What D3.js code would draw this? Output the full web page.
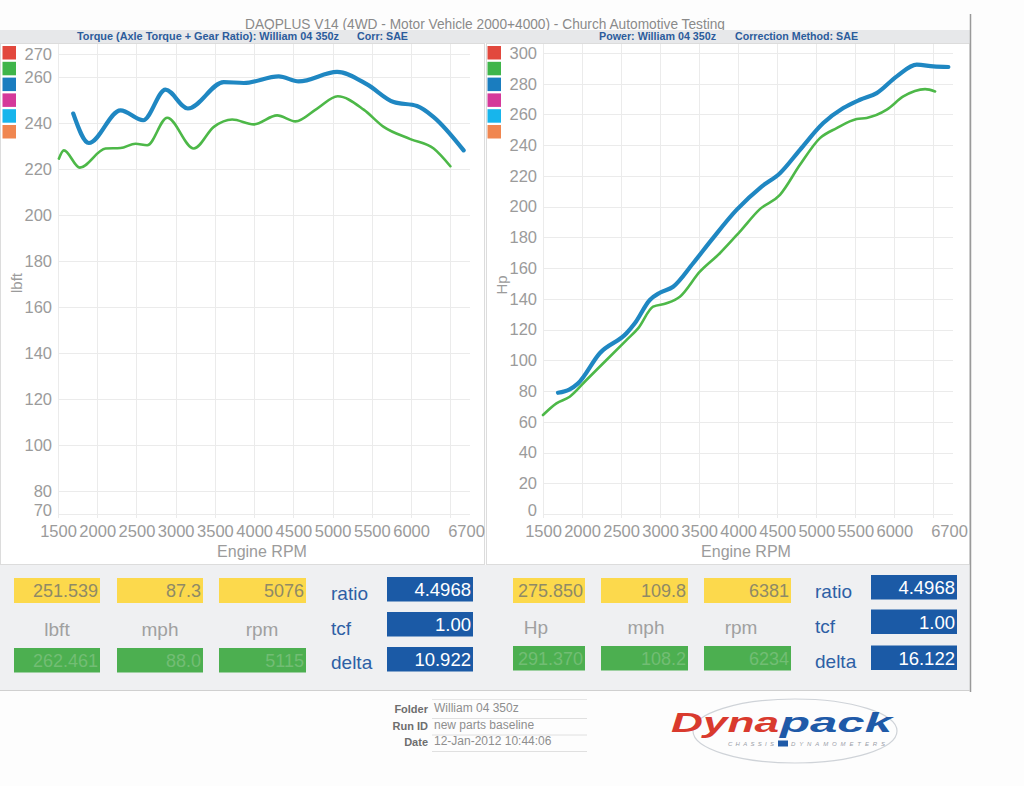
<!DOCTYPE html>
<html><head><meta charset="utf-8">
<script src="https://cdn.jsdelivr.net/npm/d3@7"></script>
<style>
body{margin:0;background:#fff;}
text{font-family:"Liberation Sans",Arial,sans-serif;}
</style>
</head><body>
<svg id="c" width="1024" height="786"></svg>
<script>
// ---------- DATA ----------
const chartTitle = "DAQPLUS V14 (4WD - Motor Vehicle 2000+4000) - Church Automotive Testing";
const rpmTicks = [1500,2000,2500,3000,3500,4000,4500,5000,5500,6000,6700];
const rpmGrid = [1500,2000,2500,3000,3500,4000,4500,5000,5500,6000,6500];
const torqueTicks = [70,80,100,120,140,160,180,200,220,240,260,270];
const powerTicks = [0,20,40,60,80,100,120,140,160,180,200,220,240,260,280,300];
const legendColors = ["#e2483d","#3fb54a","#1a7dbf","#d5399a","#17b5ec","#f08650"];

const torqueBlueRpm = [1694,1893,2297,2586,2870,3155,3613,3868,4313,4568,5057,5439,5778,6076,6288,6670];
const torqueBlue    = [244.1,231.3,245.5,241.2,254.5,246.3,257.8,257.4,260.3,258.1,262.2,256.8,249.1,247.4,242.6,228.1];
const torqueGreenRpm = [1511,1575,1778,2106,2297,2488,2637,2892,3231,3486,3720,3995,4293,4526,4803,5065,5396,5651,5991,6288,6501];
const torqueGreen    = [224.5,228.1,220.6,228.9,229.1,231.0,230.3,242.3,228.9,238.3,241.5,239.4,243.3,240.7,246.3,251.6,245.8,238.3,233.0,228.9,221.2];

const powerBlueRpm = [1692,1842,1949,2227,2569,2676,2868,2996,3167,3423,3659,3979,4300,4535,4791,5090,5346,5560,5774,6031,6287,6500,6692];
const powerBlue    = [78.9,81.1,85.0,104.6,117.6,124.1,139.3,144.0,147.9,163.2,178.4,197.9,213.1,221.8,237.0,254.4,264.2,269.6,273.9,284.8,292.4,291.3,290.9];
const powerGreenRpm = [1500,1672,1842,2056,2313,2569,2718,2910,3082,3253,3509,3765,4022,4278,4535,4791,5047,5261,5518,5646,5903,6115,6394,6522];
const powerGreen    = [64.4,72.0,76.3,87.2,100.2,113.2,120.8,134.9,137.1,141.4,157.7,169.7,183.8,198.4,207.7,227.2,244.6,251.1,257.0,257.7,263.1,271.7,276.5,275.0];

const torqueInfo = {yellow:["251.539","87.3","5076"], units:["lbft","mph","rpm"], green:["262.461","88.0","5115"], blue:["4.4968","1.00","10.922"]};
const powerInfo  = {yellow:["275.850","109.8","6381"], units:["Hp","mph","rpm"], green:["291.370","108.2","6234"], blue:["4.4968","1.00","16.122"]};
const infoLabels = ["ratio","tcf","delta"];
const footerLabels = ["Folder","Run ID","Date"];
const footerValues = ["William 04 350z","new parts baseline","12-Jan-2012 10:44:06"];

// ---------- DRAW ----------
const svg = d3.select("#c");
svg.append("rect").attr("width",1024).attr("height",786).attr("fill","#fdfdfd");

// info area background
svg.append("rect").attr("x",0).attr("y",565).attr("width",970).attr("height",125).attr("fill","#eff0f2");
// chart panels
svg.append("rect").attr("x",0.5).attr("y",43.5).attr("width",484).attr("height",521).attr("fill","#fff").attr("stroke","#dcdcdc");
svg.append("rect").attr("x",486.5).attr("y",43.5).attr("width",483).attr("height",521).attr("fill","#fff").attr("stroke","#dcdcdc");

// title
svg.append("text").attr("x",485).attr("y",29).attr("text-anchor","middle")
  .attr("font-size",15.5).attr("fill","#8a8a8a").attr("textLength",480).attr("lengthAdjust","spacingAndGlyphs")
  .text(chartTitle);
// header strip
svg.append("rect").attr("x",0).attr("y",30).attr("width",970).attr("height",13).attr("fill","#e7e8ea");
const subs = [
  {t:"Torque (Axle Torque + Gear Ratio): William 04 350z", x:77, w:262},
  {t:"Corr: SAE", x:357, w:51},
  {t:"Power: William 04 350z", x:599, w:117},
  {t:"Correction Method: SAE", x:735, w:123}
];
svg.selectAll("text.sub").data(subs).join("text").attr("class","sub")
  .attr("x",d=>d.x).attr("y",40).attr("font-size",10.5).attr("font-weight","bold").attr("fill","#2c5c9c")
  .attr("textLength",d=>d.w).attr("lengthAdjust","spacingAndGlyphs").text(d=>d.t);

// frame lines
svg.append("line").attr("x1",970.5).attr("x2",970.5).attr("y1",14).attr("y2",692).attr("stroke","#9a9a9a").attr("stroke-width",1.5);
svg.append("line").attr("x1",0).attr("x2",970).attr("y1",690.5).attr("y2",690.5).attr("stroke","#d0d0d0");

function drawChart(cfg){
  const x = d3.scaleLinear().domain([1500,6700]).range([cfg.x0,cfg.x1]);
  const y = d3.scaleLinear().domain(cfg.yDomain).range([514,cfg.yTop]);
  const g = svg.append("g");
  // vertical grid
  g.append("g").selectAll("line").data(rpmGrid).join("line")
    .attr("x1",d=>Math.round(x(d))+0.5).attr("x2",d=>Math.round(x(d))+0.5)
    .attr("y1",44).attr("y2",518).attr("stroke","#ebebeb");
  // horizontal grid
  g.append("g").selectAll("line").data(cfg.yTicks).join("line")
    .attr("x1",cfg.x0).attr("x2",cfg.x1+4)
    .attr("y1",d=>Math.round(y(d))+0.5).attr("y2",d=>Math.round(y(d))+0.5).attr("stroke","#ebebeb");
  // axes
  const ya = g.append("g").attr("transform",`translate(${cfg.x0},0)`)
    .call(d3.axisLeft(y).tickValues(cfg.yTicks).tickSize(0).tickPadding(6).tickFormat(d3.format("d")));
  ya.select(".domain").remove();
  ya.selectAll("text").attr("font-size",16.5).attr("fill","#9b9b9b").attr("font-family","Liberation Sans, Arial, sans-serif")
    .attr("dy",d=>d===cfg.yDomain[0]?"0.1em":"0.32em");
  const xa = g.append("g").attr("transform","translate(0,514)")
    .call(d3.axisBottom(x).tickValues(rpmTicks).tickSize(0).tickPadding(11).tickFormat(d3.format("d")));
  xa.select(".domain").remove();
  xa.selectAll("text").attr("font-size",16.5).attr("fill","#9b9b9b").attr("font-family","Liberation Sans, Arial, sans-serif");
  // axis titles
  g.append("text").attr("x",(cfg.x0+cfg.x1)/2).attr("y",557).attr("text-anchor","middle")
    .attr("font-size",16).attr("fill","#9b9b9b").text("Engine RPM");
  g.append("text").attr("transform",`translate(${cfg.yLabelX},${cfg.yLabelY}) rotate(-90)`).attr("text-anchor","middle")
    .attr("font-size",15).attr("fill","#9b9b9b").text(cfg.yLabel);
  // legend squares
  g.append("g").selectAll("rect").data(legendColors).join("rect")
    .attr("x",cfg.legX).attr("y",(d,i)=>46+i*15.8).attr("width",13.5).attr("height",13.5).attr("fill",d=>d);
  // lines
  const line = d3.line().x(d=>x(d[0])).y(d=>y(d[1])).curve(d3.curveMonotoneX);
  cfg.series.forEach(s=>{
    const pts = s.rpm.map((r,i)=>[r,s.val[i]]);
    g.append("path").attr("d",line(pts)).attr("fill","none").attr("stroke",s.color)
      .attr("stroke-width",s.w).attr("stroke-linecap","round").attr("stroke-linejoin","round");
  });
}

drawChart({x0:58,x1:466,yTop:54,yDomain:[70,270],yTicks:torqueTicks,yLabel:"lbft",yLabelX:22,yLabelY:283,legX:2.5,
  series:[{rpm:torqueGreenRpm,val:torqueGreen,color:"#4db848",w:2.6},{rpm:torqueBlueRpm,val:torqueBlue,color:"#1f87c2",w:4.2}]});
drawChart({x0:543,x1:949,yTop:53,yDomain:[0,300],yTicks:powerTicks,yLabel:"Hp",yLabelX:507,yLabelY:285,legX:487.5,
  series:[{rpm:powerBlueRpm,val:powerBlue,color:"#1f87c2",w:4.2},{rpm:powerGreenRpm,val:powerGreen,color:"#4db848",w:2.6}]});

// ---------- INFO PANELS ----------
function drawInfo(info, cfg){
  const g = svg.append("g");
  info.yellow.forEach((v,i)=>{
    const bx = cfg.boxX[i], bw = cfg.boxW[i];
    g.append("rect").attr("x",bx).attr("y",cfg.rowY[0]).attr("width",bw).attr("height",25).attr("fill","#fcd94c");
    g.append("text").attr("x",bx+bw-2).attr("y",cfg.rowY[0]+19).attr("text-anchor","end").attr("font-size",18).attr("fill","#8f8a66").text(v);
    g.append("rect").attr("x",cfg.boxX[i]).attr("y",cfg.rowY[2]).attr("width",bw).attr("height",24.5).attr("fill","#4caf50");
    g.append("text").attr("x",bx+bw-2).attr("y",cfg.rowY[2]+19).attr("text-anchor","end").attr("font-size",18).attr("fill","#72bd74").text(info.green[i]);
    g.append("text").attr("x",cfg.unitX[i]).attr("y",cfg.unitBase).attr("text-anchor","middle").attr("font-size",19).attr("fill","#a0a0a0").text(info.units[i]);
  });
  infoLabels.forEach((l,i)=>{
    g.append("text").attr("x",cfg.labX).attr("y",cfg.labBase[i]).attr("font-size",19).attr("fill","#2d5fa5").text(l);
    g.append("rect").attr("x",cfg.blueX).attr("y",cfg.blueY[i]).attr("width",cfg.blueW).attr("height",24.5).attr("fill","#1b5aa6");
    g.append("text").attr("x",cfg.blueX+cfg.blueW-2).attr("y",cfg.blueY[i]+19).attr("text-anchor","end").attr("font-size",18.5).attr("fill","#ffffff").text(info.blue[i]);
  });
}
drawInfo(torqueInfo,{rowY:[578,612,648],boxX:[14,117,219],boxW:[86,86,87],unitX:[57,160,262],unitBase:636,
  labX:331,labBase:[600,635,669],blueX:387,blueW:86,blueY:[577,612,647]});
drawInfo(powerInfo,{rowY:[578,612,646],boxX:[513,601,704],boxW:[72,87,87],unitX:[536,646,741],unitBase:634,
  labX:815,labBase:[598,633,668],blueX:871,blueW:86,blueY:[575,609.5,645.5]});

// ---------- FOOTER ----------
const fg = svg.append("g");
footerLabels.forEach((l,i)=>{
  const by = 713 + i*16.5;
  fg.append("text").attr("x",428).attr("y",by).attr("text-anchor","end").attr("font-size",11).attr("font-weight","bold").attr("fill","#6e6e6e").text(l);
  fg.append("text").attr("x",434).attr("y",by-1).attr("font-size",12).attr("fill","#8e8e8e").text(footerValues[i]);
  fg.append("line").attr("x1",432).attr("x2",587).attr("y1",by+5.5).attr("y2",by+5.5).attr("stroke","#e0e0e0");
});
fg.append("line").attr("x1",432).attr("x2",587).attr("y1",699.5).attr("y2",699.5).attr("stroke","#e6e6e6");

// Dynapack logo
const lg = svg.append("g");
lg.append("ellipse").attr("cx",795).attr("cy",731).attr("rx",102).attr("ry",32).attr("fill","none").attr("stroke","#cfd3d8").attr("stroke-width",1.2);
lg.append("text").attr("x",671).attr("y",732).attr("font-size",28).attr("font-weight","bold").attr("font-style","italic")
  .attr("fill","#d93a2e").attr("textLength",108).attr("lengthAdjust","spacingAndGlyphs").text("Dyna");
lg.append("text").attr("x",780).attr("y",732).attr("font-size",28).attr("font-weight","bold").attr("font-style","italic")
  .attr("fill","#1f5aa8").attr("textLength",112).attr("lengthAdjust","spacingAndGlyphs").text("pack");
lg.append("text").attr("x",728).attr("y",746).attr("font-size",6).attr("font-style","italic").attr("fill","#9aa0a8").attr("textLength",46).attr("lengthAdjust","spacing").text("CHASSIS");
lg.append("rect").attr("x",778).attr("y",740.5).attr("width",10).attr("height",6).attr("fill","#1f5aa8");
lg.append("text").attr("x",791).attr("y",746).attr("font-size",6).attr("font-style","italic").attr("fill","#9aa0a8").attr("textLength",94).attr("lengthAdjust","spacing").text("DYNAMOMETERS");
</script>
</body></html>
